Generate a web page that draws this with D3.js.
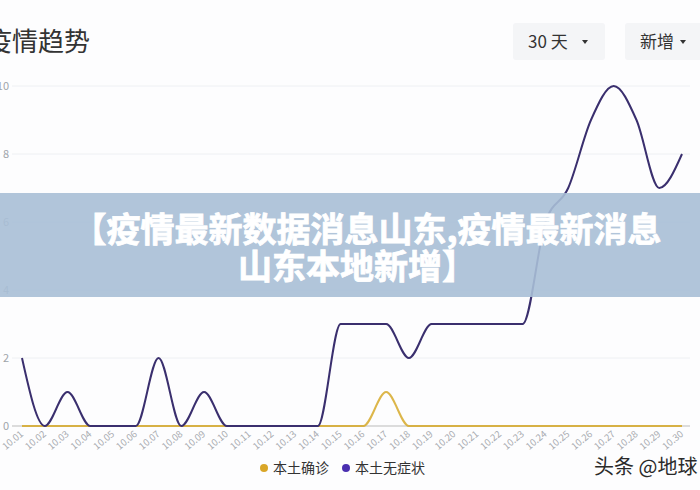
<!DOCTYPE html>
<html><head><meta charset="utf-8">
<script src="https://cdn.jsdelivr.net/npm/d3@7/dist/d3.min.js"></script>
<style>
html,body{margin:0;padding:0;background:#fdfdfe;}
svg{display:block;font-family:"Noto Sans CJK SC","Noto Sans",sans-serif;}
</style></head>
<body>
<svg id="c" width="700" height="490"></svg>
<script>
const dates = ["10.01","10.02","10.03","10.04","10.05","10.06","10.07","10.08","10.09","10.10",
"10.11","10.12","10.13","10.14","10.15","10.16","10.17","10.18","10.19","10.20",
"10.21","10.22","10.23","10.24","10.25","10.26","10.27","10.28","10.29","10.30"];
const confirmed = [0,0,0,0,0,0,0,0,0,0, 0,0,0,0,0,0,1,0,0,0, 0,0,0,0,0,0,0,0,0,0];
const asymptomatic = [2,0,1,0,0,0,2,0,1,0, 0,0,0,0,3,3,3,2,3,3, 3,3,3,6,7,9,10,9,7,8];
const yTicks = [0,2,4,6,8,10];
const seriesNames = ["本土确诊","本土无症状"];
const seriesColors = ["#d6a92a","#3a2f6e"];
const legendColors = ["#d9a628","#4a2fb0"];

const svg = d3.select("#c");
const x = d3.scalePoint().domain(dates).range([22, 682]);
const y = d3.scaleLinear().domain([0,10]).range([426, 86]);

// title
svg.append("text").attr("x",-14).attr("y",51).attr("font-size",26).attr("fill","#333").text("疫情趋势");

// dropdowns
const dd = [{t:"30 天",x0:513,w:92},{t:"新增",x0:625,w:85}];
dd.forEach(d=>{
  svg.append("rect").attr("x",d.x0).attr("y",23).attr("width",d.w).attr("height",37).attr("rx",3).attr("fill","#f4f5f7");
  svg.append("text").attr("x",d.x0+15).attr("y",48).attr("font-size",17).attr("fill","#333").text(d.t);
});
svg.append("path").attr("d","M582,40 l6,0 l-3,4 z").attr("fill","#333");
svg.append("path").attr("d","M680,40 l6,0 l-3,4 z").attr("fill","#333");

// grid
svg.append("g").selectAll("line").data(yTicks.filter(d=>d>0)).join("line")
  .attr("x1",12).attr("x2",690).attr("y1",d=>y(d)).attr("y2",d=>y(d))
  .attr("stroke","#eef0f3").attr("stroke-width",1);
svg.append("line").attr("x1",12).attr("x2",690).attr("y1",y(0)).attr("y2",y(0))
  .attr("stroke","#d0d0d0").attr("stroke-width",1.5);

// y labels
svg.append("g").selectAll("text").data(yTicks).join("text")
  .attr("x",9).attr("y",d=>y(d)+4).attr("text-anchor","end")
  .attr("font-size",11).attr("fill","#a0a4aa").text(d=>d);

// x labels
svg.append("g").selectAll("text").data(dates).join("text")
  .attr("transform",d=>`translate(${x(d)+2},${y(0)+9}) rotate(-40)`)
  .attr("text-anchor","end").attr("font-size",9.5).attr("fill","#a8abb0").text(d=>d);

// lines
const line = d3.line().x((d,i)=>x(dates[i])).y(d=>y(d)).curve(d3.curveMonotoneX);
svg.append("path").datum(confirmed).attr("d",line).attr("fill","none")
  .attr("stroke",seriesColors[0]).attr("stroke-width",2).attr("stroke-opacity",0.85);
svg.append("path").datum(asymptomatic).attr("d",line).attr("fill","none")
  .attr("stroke",seriesColors[1]).attr("stroke-width",2);

// legend
const lg = [{x:264},{x:346}];
seriesNames.forEach((n,i)=>{
  svg.append("circle").attr("cx",lg[i].x).attr("cy",468).attr("r",4).attr("fill",legendColors[i]);
  svg.append("text").attr("x",lg[i].x+9).attr("y",473).attr("font-size",14).attr("fill","#333").text(n);
});

// watermark
svg.append("text").attr("x",594).attr("y",474).attr("font-size",20).attr("fill","#2a2a2a").text("头条 @地球");

// banner
svg.append("rect").attr("x",0).attr("y",193).attr("width",700).attr("height",104)
  .attr("fill","#a8bfd6").attr("opacity",0.9);
const bt = svg.append("text").attr("font-size",34).attr("font-weight",700).attr("fill","#fff")
  .attr("stroke","#fff").attr("stroke-width",0.8).attr("text-anchor","middle");
bt.append("tspan").attr("x",367).attr("y",242).text("【疫情最新数据消息山东,疫情最新消息");
bt.append("tspan").attr("x",357).attr("y",279).text("山东本地新增】");
</script>
</body></html>
